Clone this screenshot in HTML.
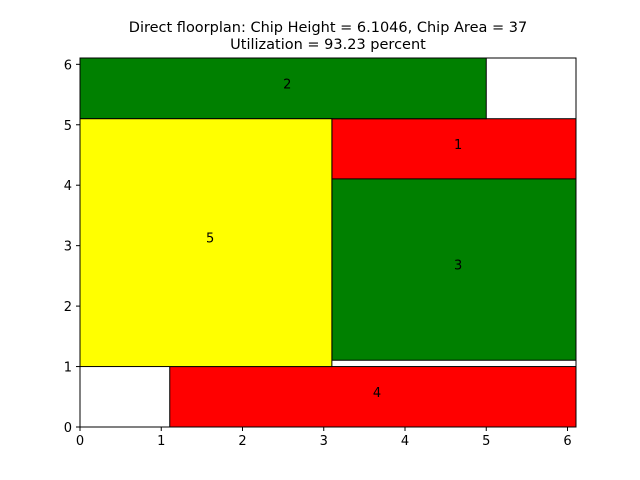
<!DOCTYPE html>
<html><head><meta charset="utf-8"><style>
body{margin:0;background:#fff;}
svg{display:block;font-family:"DejaVu Sans","Liberation Sans",sans-serif;}
</style></head><body>
<svg id="chart" width="640" height="480" viewBox="0 0 640 480">
<text x="328" y="32" font-size="14.5" text-anchor="middle">Direct floorplan: Chip Height = 6.1046, Chip Area = 37</text>
<text x="328" y="49" font-size="14.5" text-anchor="middle">Utilization = 93.23 percent</text>
<g id="blocks"></g>
<rect x="80" y="58" width="496" height="369" fill="none" stroke="#000" stroke-width="1"/>
<g id="axes"></g>
</svg>
<script>
const blockLabels = ["1","2","3","4","5"];
const blockX = [3.1, 0, 3.1, 1.1046, 0];
const blockY = [4.1, 5.1, 1.1046, 0, 1.0];
const blockW = [3.0046, 5.0, 3.0046, 5.0, 3.1];
const blockH = [1.0, 1.0046, 3.0, 1.0, 4.1];
const blockColors = ["red","green","green","red","yellow"];
const xTicks = [0,1,2,3,4,5,6];
const yTicks = [0,1,2,3,4,5,6];
const xMax = 6.1046, yMax = 6.1046;
const L=80,R=576,T=58,B=427;
const sx = v => L + v/xMax*(R-L);
const sy = v => B - v/yMax*(B-T);
const NS="http://www.w3.org/2000/svg";
const g=document.getElementById('blocks');
blockLabels.forEach((lab,i)=>{
  const r=document.createElementNS(NS,'rect');
  r.setAttribute('x',sx(blockX[i]));r.setAttribute('y',sy(blockY[i]+blockH[i]));
  r.setAttribute('width',sx(blockX[i]+blockW[i])-sx(blockX[i]));
  r.setAttribute('height',sy(blockY[i])-sy(blockY[i]+blockH[i]));
  r.setAttribute('fill',blockColors[i]);r.setAttribute('stroke','#000');r.setAttribute('stroke-width','1');
  
  
  g.appendChild(r);
  const t=document.createElementNS(NS,'text');
  t.setAttribute('x',sx(blockX[i]+blockW[i]/2));t.setAttribute('y',sy(blockY[i]+blockH[i]/2));
  t.setAttribute('font-size','13');t.setAttribute('text-anchor','start');t.textContent=lab;
  
  
  g.appendChild(t);
});
const a=document.getElementById('axes');
xTicks.forEach(v=>{
  const l=document.createElementNS(NS,'line');
  l.setAttribute('x1',sx(v));l.setAttribute('x2',sx(v));l.setAttribute('y1',B);l.setAttribute('y2',B+4);l.setAttribute('stroke','#000');
  
  
  a.appendChild(l);
  const t=document.createElementNS(NS,'text');
  t.setAttribute('x',sx(v));t.setAttribute('y',B+18);t.setAttribute('font-size','13');t.setAttribute('text-anchor','middle');t.textContent=v;
  
  
  a.appendChild(t);
});
yTicks.forEach(v=>{
  const l=document.createElementNS(NS,'line');
  l.setAttribute('x1',L-4);l.setAttribute('x2',L);l.setAttribute('y1',sy(v));l.setAttribute('y2',sy(v));l.setAttribute('stroke','#000');
  
  
  a.appendChild(l);
  const t=document.createElementNS(NS,'text');
  t.setAttribute('x',L-8);t.setAttribute('y',sy(v)+5);t.setAttribute('font-size','13');t.setAttribute('text-anchor','end');t.textContent=v;
  
  
  a.appendChild(t);
});
</script>
</body></html>
